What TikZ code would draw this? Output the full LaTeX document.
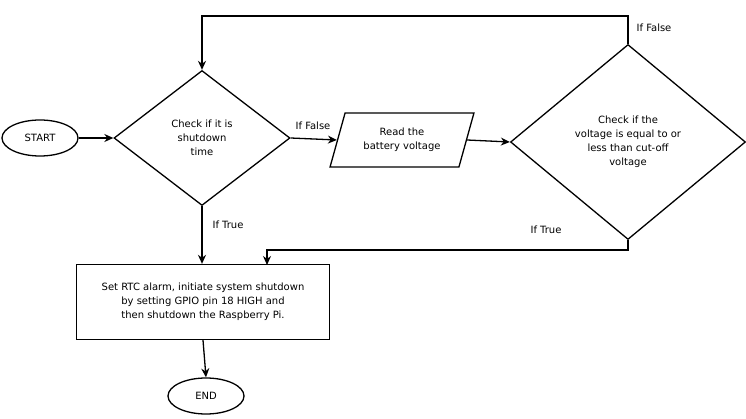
\documentclass[tikz,border=0pt]{standalone}
\usepackage{fontspec}
\setmainfont{DejaVu Sans}
\usetikzlibrary{shapes.geometric,arrows.meta}
\begin{document}
\begin{tikzpicture}[x=1pt,y=-1pt,
  every node/.style={font=\fontsize{10}{14}\selectfont},
  box/.style={draw, align=center, line width=1.3pt},
  conn/.style={line width=1.3pt, -{Stealth[length=9pt,width=8pt]}},
  lbl/.style={font=\fontsize{10}{12}\selectfont}]
\path[use as bounding box] (0,0) rectangle (746,419);
\node[box, ellipse, minimum width=76, minimum height=36] (start) at (40,138) {START};
\node[box, diamond, minimum width=176, minimum height=135, inner sep=0pt] (d1) at (202,138) {Check if it is\\shutdown\\time};
\node[box, trapezium, trapezium left angle=70, trapezium right angle=110, trapezium stretches=true, minimum width=144, minimum height=54] (read) at (402,140) {Read the\\battery voltage};
\node[box, diamond, minimum width=235, minimum height=195, inner sep=0pt] (d2) at (628,142) {Check if the\\voltage is equal to or\\less than cut-off\\voltage};
\node[box, minimum width=253, minimum height=75] (act) at (203,302) {Set RTC alarm, initiate system shutdown\\by setting GPIO pin 18 HIGH and\\then shutdown the Raspberry Pi.};
\node[box, ellipse, minimum width=76, minimum height=36] (end) at (206,396) {END};
\coordinate (t1) at (628,16);
\coordinate (t2) at (202,16);
\coordinate (b1) at (628,250);
\coordinate (b2) at (267,250);
\coordinate (b3) at (267,265);
\draw[conn] (start.east) -- (d1.west);
\draw[conn] (d1.east) -- (read.west);
\draw[conn] (read.east) -- (d2.west);
\draw[conn] (d2.north) -- (t1) -- (t2) -- (d1.north);
\draw[conn] (d2.south) -- (b1) -- (b2) -- (b3);
\draw[conn] (d1.south) -- (act.north -| d1.south);
\draw[conn] (act.south) -- (end.north);
\node[lbl] at (313,126) {If False};
\node[lbl] at (654,28) {If False};
\node[lbl] at (546,230) {If True};
\node[lbl] at (228,225) {If True};
\end{tikzpicture}
\end{document}
